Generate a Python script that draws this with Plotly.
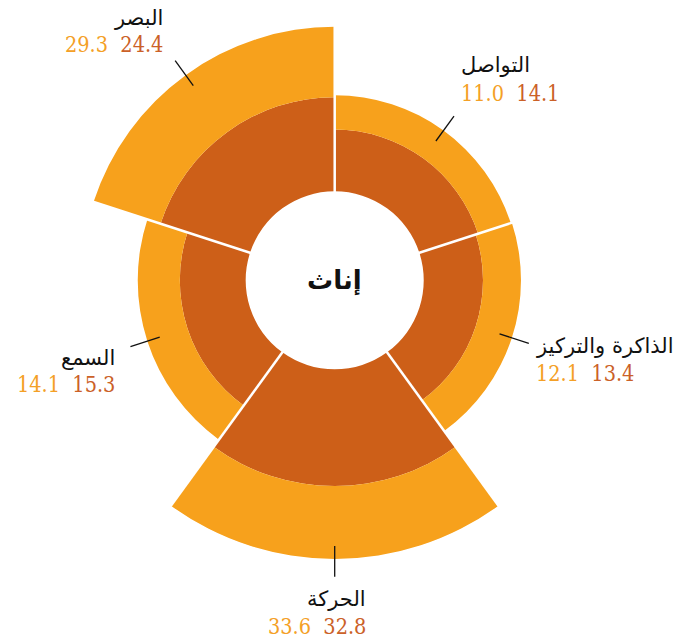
import math
import plotly.graph_objects as go

# ---- data -------------------------------------------------------------
categories = ["التواصل", "الذاكرة والتركيز", "الحركة", "السمع", "البصر"]
inner_values = [14.1, 13.4, 32.8, 15.3, 24.4]   # dark ring
outer_values = [11.0, 12.1, 33.6, 14.1, 29.3]   # light ring, stacked on top
center_label = "إناث"

# ---- style ------------------------------------------------------------
W, H = 691, 644
DARK = "#CD5F18"
LIGHT = "#F7A11C"
DARK_TXT = "#CB6128"
LIGHT_TXT = "#F4A026"
NAME_FONT = "DejaVu Sans"
NUM_FONT = "DejaVu Serif Condensed, DejaVu Serif, serif"

# area-true radial scale: radius^2 grows linearly with the stacked value
C0 = 7.55                  # squared radius of the empty centre, in value units
U_MAX = 8.62               # outer limit of the radial axis
CX, CY, R_PX = 334.7, 280.3, 279.3   # centre and radius of the polar area (px)
PX_PER_U = R_PX / U_MAX


def u(v):
    return math.sqrt(C0 + v)


n = len(categories)
width = 360 / n
theta_mid = [width * (i + 0.5) for i in range(n)]
u0 = u(0)
u_inner = [u(d) for d in inner_values]
u_total = [u(d + l) for d, l in zip(inner_values, outer_values)]

fig = go.Figure()

fig.add_trace(go.Barpolar(
    theta=theta_mid, width=[width] * n,
    base=[u0] * n, r=[ui - u0 for ui in u_inner],
    marker=dict(color=DARK, line=dict(width=0)),
    hoverinfo="skip", showlegend=False,
))
fig.add_trace(go.Barpolar(
    theta=theta_mid, width=[width] * n,
    base=u_inner, r=[ut - ui for ut, ui in zip(u_total, u_inner)],
    marker=dict(color=LIGHT, line=dict(width=0)),
    hoverinfo="skip", showlegend=False,
))

# white radial separators between sectors
for i in range(n):
    t = width * i
    fig.add_trace(go.Scatterpolar(
        theta=[t, t], r=[u0 - 0.05, U_MAX],
        mode="lines", line=dict(color="white", width=2.5),
        hoverinfo="skip", showlegend=False,
    ))


def to_paper(theta_deg, uu):
    a = math.radians(theta_deg)
    x = CX + uu * PX_PER_U * math.sin(a)
    y = CY - uu * PX_PER_U * math.cos(a)
    return x / W, 1 - y / H


# label placement relative to the outer end of each leader line (px)
label_style = [
    dict(dx=5, dy_name=-51, dy_num=-23, align="left"),
    dict(dx=5, dy_name=3, dy_num=30, align="left"),
    dict(dx=33, dy_name=22, dy_num=50, align="right"),
    dict(dx=-13, dy_name=11, dy_num=38, align="right"),
    dict(dx=-10, dy_name=-43, dy_num=-16, align="right"),
]

shapes = []
annotations = []
for i in range(n):
    t = theta_mid[i]
    x0, y0 = to_paper(t, u_total[i] - 0.4)
    x1, y1 = to_paper(t, u_total[i] + 0.55)
    shapes.append(dict(type="line", xref="paper", yref="paper",
                       x0=x0, y0=y0, x1=x1, y1=y1,
                       line=dict(color="#111111", width=1.3)))
    st = label_style[i]
    ex = x1 + st["dx"] / W
    annotations.append(dict(
        xref="paper", yref="paper", x=ex, y=y1 - st["dy_name"] / H,
        text=categories[i], showarrow=False,
        xanchor=st["align"], yanchor="middle",
        font=dict(family=NAME_FONT, size=21, color="#111111"),
    ))
    annotations.append(dict(
        xref="paper", yref="paper", x=ex, y=y1 - st["dy_num"] / H,
        text=(f"<span style='color:{LIGHT_TXT}'>{outer_values[i]:.1f}</span>"
              f"\u00a0\u00a0<span style='color:{DARK_TXT}'>{inner_values[i]:.1f}</span>"),
        showarrow=False, xanchor=st["align"], yanchor="middle",
        font=dict(family=NUM_FONT, size=21.5, color=DARK_TXT),
    ))

cx_p, cy_p = to_paper(0, 0)
annotations.append(dict(
    xref="paper", yref="paper", x=cx_p, y=cy_p,
    text=f"<b>{center_label}</b>", showarrow=False,
    xanchor="center", yanchor="middle",
    font=dict(family=NAME_FONT, size=26, color="#111111"),
))

fig.update_layout(
    width=W, height=H,
    margin=dict(l=0, r=0, t=0, b=0, pad=0),
    paper_bgcolor="white", plot_bgcolor="white",
    polar=dict(
        domain=dict(x=[(CX - R_PX) / W, (CX + R_PX) / W],
                    y=[1 - (CY + R_PX) / H, 1 - (CY - R_PX) / H]),
        bgcolor="white", hole=0, barmode="overlay",
        radialaxis=dict(range=[0, U_MAX], visible=False, showgrid=False),
        angularaxis=dict(rotation=90, direction="clockwise", visible=False,
                         showgrid=False, thetaunit="degrees"),
    ),
    shapes=shapes,
    annotations=annotations,
)

fig.write_html("out.html")
